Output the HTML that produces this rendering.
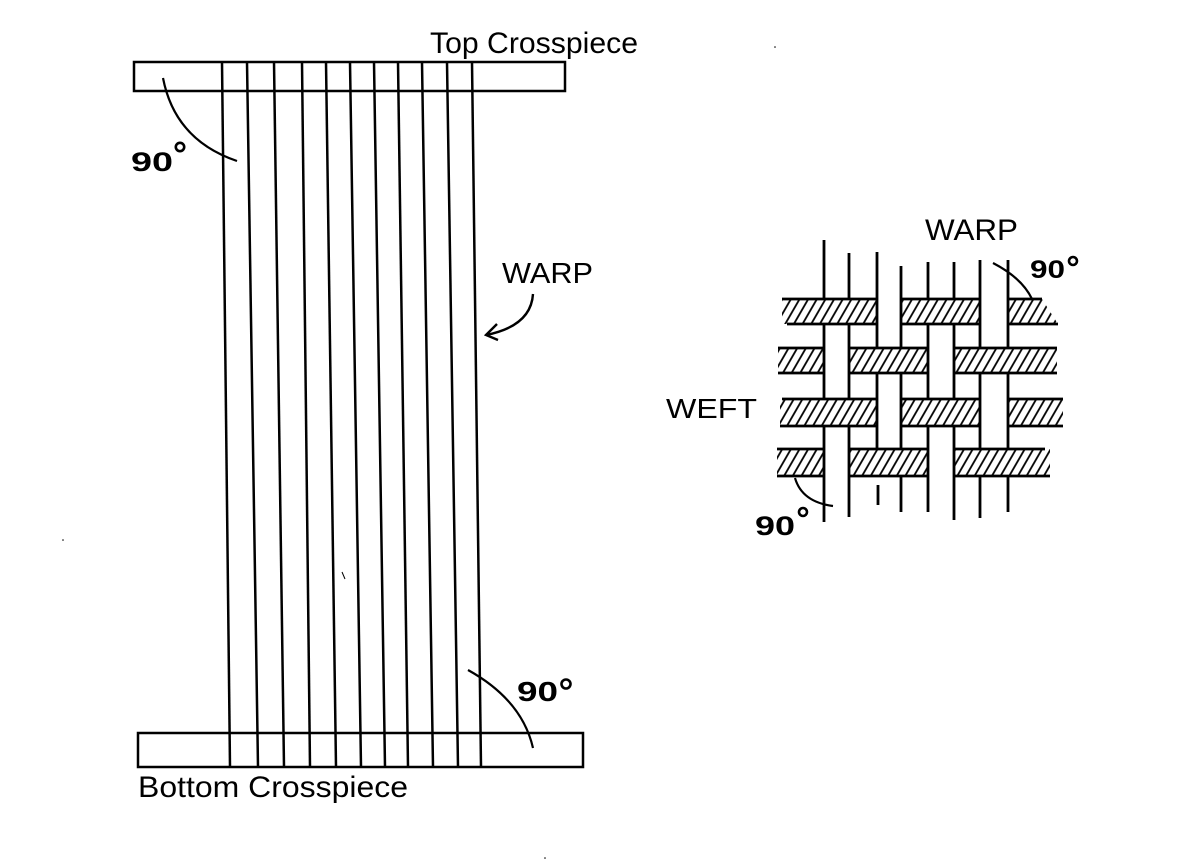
<!DOCTYPE html>
<html>
<head>
<meta charset="utf-8">
<style>
html,body{margin:0;padding:0;background:#fff;}
svg{display:block;}
text{font-family:"Liberation Sans","DejaVu Sans",sans-serif;fill:#000;}
</style>
</head>
<body>
<svg width="1178" height="864" viewBox="0 0 1178 864" xmlns="http://www.w3.org/2000/svg">
<defs>
<pattern id="h" width="7.5" height="20" patternUnits="userSpaceOnUse" patternTransform="rotate(30)">
<line x1="2" y1="0" x2="2" y2="20" stroke="#000" stroke-width="1.8"/>
</pattern>
</defs>
<rect width="1178" height="864" fill="#fff"/>

<!-- LEFT DIAGRAM -->
<g fill="none" stroke="#000" stroke-width="2.5">
<rect x="134" y="62" width="431" height="29"/>
<rect x="138" y="733" width="445" height="34"/>
<line x1="222" y1="62" x2="230" y2="767"/>
<line x1="247" y1="62" x2="258" y2="767"/>
<line x1="274" y1="62" x2="284" y2="767"/>
<line x1="302" y1="62" x2="310" y2="767"/>
<line x1="326" y1="62" x2="336" y2="767"/>
<line x1="350" y1="62" x2="361" y2="767"/>
<line x1="374" y1="62" x2="385" y2="767"/>
<line x1="398" y1="62" x2="408" y2="767"/>
<line x1="422" y1="62" x2="433" y2="767"/>
<line x1="447" y1="62" x2="458" y2="767"/>
<line x1="472" y1="62" x2="481" y2="767"/>
<!-- arcs -->
<path d="M163,78 Q175,140 237,161" stroke-width="2.2"/>
<path d="M468,670 Q522,700 533,748" stroke-width="2.2"/>
<!-- arrow -->
<path d="M533,294 Q531,326 486,335" stroke-width="2.4"/>
<path d="M497,324 L486,335 L498,340" stroke-width="2.4"/>
</g>

<text x="430" y="53" font-size="30" textLength="208" lengthAdjust="spacingAndGlyphs">Top Crosspiece</text>
<text x="138" y="797" font-size="30" textLength="270" lengthAdjust="spacingAndGlyphs">Bottom Crosspiece</text>
<text x="502" y="283" font-size="29" textLength="91" lengthAdjust="spacingAndGlyphs">WARP</text>

<text x="131" y="171" font-size="27" font-weight="bold" textLength="42" lengthAdjust="spacingAndGlyphs">90</text>
<circle cx="180" cy="147" r="4.2" fill="none" stroke="#000" stroke-width="2.6"/>
<text x="517" y="701" font-size="28" font-weight="bold" textLength="41" lengthAdjust="spacingAndGlyphs">90</text>
<circle cx="566" cy="684" r="4.5" fill="none" stroke="#000" stroke-width="2.6"/>

<!-- RIGHT DIAGRAM -->
<g fill="url(#h)" stroke="none">
<rect x="782" y="299" width="95" height="25"/>
<rect x="901" y="299" width="79" height="25"/>
<polygon points="1008,299 1042,299 1058,324 1008,324"/>
<rect x="778" y="348" width="46" height="25"/>
<rect x="849" y="348" width="79" height="25"/>
<rect x="954" y="348" width="103" height="25"/>
<rect x="780" y="399" width="97" height="27"/>
<rect x="901" y="399" width="79" height="27"/>
<rect x="1008" y="399" width="55" height="27"/>
<rect x="777" y="449" width="47" height="27"/>
<rect x="849" y="449" width="79" height="27"/>
<rect x="954" y="449" width="96" height="27"/>
</g>
<g fill="none" stroke="#000" stroke-width="2.8">
<path d="M782,299 H877 M787,324 H877 M901,299 H980 M901,324 H980 M1008,299 H1042 M1008,324 H1058"/>
<path d="M778,348 H824 M778,373 H824 M849,348 H928 M849,373 H928 M954,348 H1057 M954,373 H1057"/>
<path d="M782,399 H877 M780,426 H877 M901,399 H980 M901,426 H980 M1008,399 H1063 M1008,426 H1063"/>
<path d="M777,449 H824 M777,476 H824 M849,449 H928 M849,476 H928 M954,449 H1045 M954,476 H1050"/>
<path d="M824,240 V299 M824,324 V399 M824,426 V522"/>
<path d="M849,253 V299 M849,324 V399 M849,426 V517"/>
<path d="M877,252 V348 M877,373 V449 M878,485 V505"/>
<path d="M901,266 V348 M901,373 V449 M901,476 V512"/>
<path d="M928,262 V299 M928,324 V399 M928,426 V512"/>
<path d="M954,262 V299 M954,324 V399 M954,426 V520"/>
<path d="M980,260 V348 M980,373 V449 M980,476 V518"/>
<path d="M1008,260 V348 M1008,373 V449 M1008,476 V512"/>
<path d="M993,263 Q1022,278 1032,299" stroke-width="2.2"/>
<path d="M795,478 Q802,502 833,506" stroke-width="2.2"/>
</g>

<text x="925" y="240" font-size="30" textLength="93" lengthAdjust="spacingAndGlyphs">WARP</text>
<text x="666" y="418" font-size="28" textLength="91" lengthAdjust="spacingAndGlyphs">WEFT</text>
<text x="1030" y="278" font-size="25" font-weight="bold" textLength="35" lengthAdjust="spacingAndGlyphs">90</text>
<circle cx="1073" cy="261" r="4" fill="none" stroke="#000" stroke-width="2.6"/>
<text x="755" y="535" font-size="27" font-weight="bold" textLength="40" lengthAdjust="spacingAndGlyphs">90</text>
<circle cx="803" cy="512" r="4" fill="none" stroke="#000" stroke-width="2.6"/>

<circle cx="775" cy="47" r="0.8" fill="#000"/>
<circle cx="63" cy="540" r="0.8" fill="#000"/>
<line x1="342" y1="572" x2="345" y2="579" stroke="#000" stroke-width="1"/>
<circle cx="545" cy="858" r="0.8" fill="#000"/>
</svg>
</body>
</html>
